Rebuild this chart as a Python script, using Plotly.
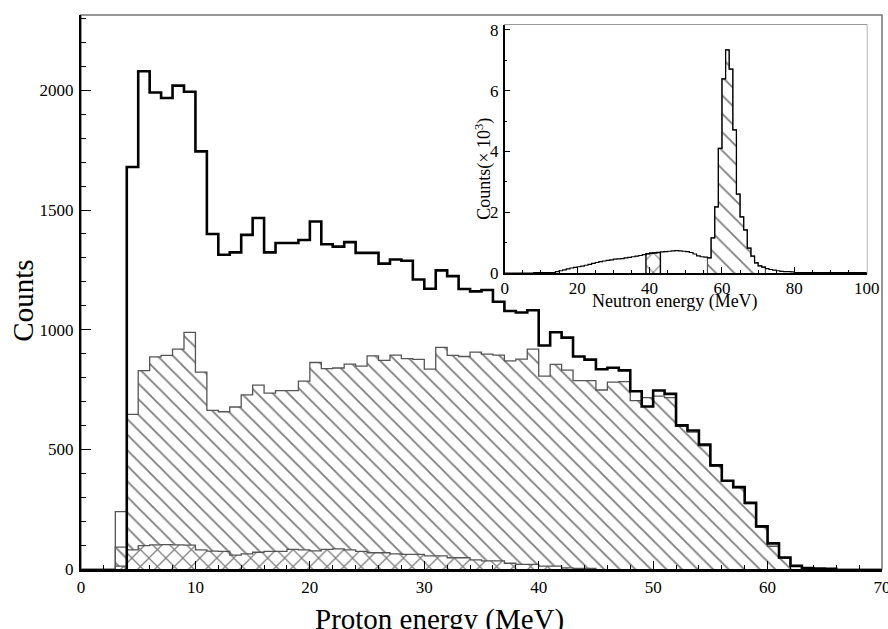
import numpy as np
import plotly.graph_objects as go

# ---------------- data ----------------
# Proton energy histogram, 1 MeV bins, first bin starts at 3 MeV
proton_first_bin = 3
total_counts = [240, 1680, 2080, 1991, 1968, 2020, 1994, 1745, 1400, 1313, 1323,
                1396, 1467, 1323, 1362, 1362, 1375, 1452, 1357, 1347, 1366, 1321,
                1321, 1276, 1293, 1288, 1210, 1171, 1248, 1224, 1170, 1160, 1166,
                1117, 1078, 1072, 1081, 934, 989, 967, 888, 875, 835, 841, 830,
                743, 679, 746, 732, 600, 579, 520, 433, 369, 342, 277, 178, 107,
                48, 13, 4, 2, 1]
hatched_counts = [91, 646, 829, 886, 893, 919, 989, 823, 663, 657, 677, 728, 768,
                  735, 745, 745, 785, 863, 837, 840, 856, 848, 891, 872, 894, 879,
                  876, 835, 926, 893, 888, 906, 898, 894, 870, 877, 919, 806, 855,
                  831, 787, 787, 748, 781, 783, 704, 716, 722, 716, 596, 572, 515,
                  430, 367, 340, 272, 175, 95, 45, 12, 3]
cross_counts = [12, 80, 98, 101, 102, 101, 100, 80, 75, 74, 58, 63, 70, 74, 74, 82,
                80, 76, 82, 84, 80, 74, 68, 68, 63, 61, 61, 55, 55, 47, 47, 38, 34,
                34, 24, 19, 19, 12, 12, 5, 3, 2]

# Neutron energy histogram (inset), counts x 10^3, 1 MeV bins from 0 MeV
neutron_counts = ([0.0] * 8 + [0.02] * 6 +
                  [0.05, 0.08, 0.11, 0.14, 0.17, 0.19, 0.21, 0.23, 0.26, 0.29,
                   0.32, 0.35, 0.38, 0.40, 0.42, 0.44, 0.46, 0.47, 0.48, 0.50,
                   0.52, 0.54, 0.56, 0.58, 0.61, 0.64, 0.66, 0.67, 0.68, 0.70,
                   0.71, 0.72, 0.73, 0.74, 0.73, 0.72, 0.71, 0.68, 0.63, 0.57,
                   0.54, 0.53, 0.50, 1.16, 2.18, 4.10, 6.39, 7.34, 6.71, 4.71,
                   2.60, 1.85, 1.42, 0.82, 0.56, 0.34, 0.24, 0.20, 0.15, 0.12,
                   0.10, 0.08, 0.06, 0.05, 0.05, 0.04] + [0.02] * 20)
neutron_hatch_range = (56, 72)   # MeV, gated peak region
neutron_cross_range = (39, 43)   # MeV, gated background region

main_xticks = [0, 10, 20, 30, 40, 50, 60, 70]
main_yticks = [0, 500, 1000, 1500, 2000]
inset_xticks = [0, 20, 40, 60, 80, 100]
inset_yticks = [0, 2, 4, 6, 8]


def step_xy(first_edge, values):
    values = np.asarray(values, dtype=float)
    edges = first_edge + np.arange(len(values) + 1)
    xs = np.concatenate([[edges[0]], edges[:-1], [edges[-1]]])
    ys = np.concatenate([[0.0], values, [0.0]])
    return xs, ys


FONT = "Liberation Serif, Times New Roman, serif"
fig = go.Figure()

# ---- main panel ----
hx, hy = step_xy(proton_first_bin, hatched_counts)
fig.add_trace(go.Scatter(x=hx, y=hy, mode="lines", line=dict(color="#555", width=1.3, shape="hv"),
                         fill="tozeroy", fillcolor="white",
                         fillpattern=dict(shape="\\", fgcolor="black", bgcolor="white",
                                          size=11, solidity=0.17),
                         showlegend=False, hoverinfo="skip"))
cx, cy = step_xy(proton_first_bin, cross_counts)
fig.add_trace(go.Scatter(x=cx, y=cy, mode="lines", line=dict(color="#555", width=1.3, shape="hv"),
                         fill="tozeroy", fillcolor="white",
                         fillpattern=dict(shape="x", fgcolor="black", bgcolor="white",
                                          size=12, solidity=0.2),
                         showlegend=False, hoverinfo="skip"))
# thin outline of the first (ungated) bin
tx0, ty0 = step_xy(proton_first_bin, total_counts[:1])
fig.add_trace(go.Scatter(x=tx0, y=ty0, mode="lines", line=dict(color="#555", width=1.3, shape="hv"),
                         showlegend=False, hoverinfo="skip"))
tx, ty = step_xy(proton_first_bin + 1, total_counts[1:])
fig.add_trace(go.Scatter(x=tx, y=ty, mode="lines", line=dict(color="black", width=2.6, shape="hv"),
                         showlegend=False, hoverinfo="skip"))

# ---- inset ----
nc = np.asarray(neutron_counts)
lo, hi = neutron_hatch_range
ix, iy = step_xy(lo, nc[lo:hi])
fig.add_trace(go.Scatter(x=ix, y=iy, xaxis="x2", yaxis="y2", mode="lines",
                         line=dict(color="#555", width=1.2, shape="hv"),
                         fill="tozeroy", fillcolor="white",
                         fillpattern=dict(shape="\\", fgcolor="black", bgcolor="white",
                                          size=13, solidity=0.14),
                         showlegend=False, hoverinfo="skip"))
lo, hi = neutron_cross_range
ix, iy = step_xy(lo, nc[lo:hi])
fig.add_trace(go.Scatter(x=ix, y=iy, xaxis="x2", yaxis="y2", mode="lines",
                         line=dict(color="black", width=1.4, shape="hv"),
                         fill="tozeroy", fillcolor="white",
                         fillpattern=dict(shape="x", fgcolor="black", bgcolor="white",
                                          size=14, solidity=0.15),
                         showlegend=False, hoverinfo="skip"))
nx, ny = step_xy(0, nc)
fig.add_trace(go.Scatter(x=nx, y=ny, xaxis="x2", yaxis="y2", mode="lines",
                         line=dict(color="black", width=1.2, shape="hv"),
                         showlegend=False, hoverinfo="skip"))

tickfont = dict(family=FONT, size=17, color="black")
fig.update_layout(
    width=888, height=629,
    margin=dict(l=81, r=6, t=15, b=60, autoexpand=False),
    paper_bgcolor="white", plot_bgcolor="white",
    font=dict(family=FONT, size=17, color="black"),
    showlegend=False,
    xaxis=dict(domain=[0, 1], range=[0, 70], tickvals=main_xticks, ticks="inside",
               ticklen=8, tickwidth=1, tickcolor="black",
               minor=dict(dtick=2, ticks="inside", ticklen=4, tickcolor="black"),
               showline=True, linecolor="black", linewidth=2.5, showgrid=False,
               zeroline=False, tickfont=tickfont, ticklabelstandoff=1, automargin=False,
               ticklabeloverflow="allow"),
    yaxis=dict(domain=[0, 1], range=[0, 2315], tickvals=main_yticks, ticks="inside",
               ticklen=10, tickwidth=1, tickcolor="black",
               minor=dict(dtick=100, ticks="inside", ticklen=5, tickcolor="black"),
               showline=True, linecolor="black", linewidth=2, showgrid=False,
               zeroline=False, tickfont=tickfont, ticklabelstandoff=2, automargin=False),
    xaxis2=dict(domain=[0.529, 0.981], anchor="y2", range=[0, 100], tickvals=inset_xticks,
                ticks="inside", ticklen=6, tickcolor="black",
                minor=dict(dtick=5, ticks="inside", ticklen=3, tickcolor="black"),
                showline=True, linecolor="black", linewidth=2, showgrid=False,
                zeroline=False, tickfont=tickfont, ticklabelstandoff=-2, automargin=False,
                ticklabeloverflow="allow"),
    yaxis2=dict(domain=[0.534, 0.982], anchor="x2", range=[0, 8.16], tickvals=inset_yticks,
                ticks="inside", ticklen=6, tickcolor="black",
                minor=dict(dtick=1, ticks="inside", ticklen=3, tickcolor="black"),
                showline=True, linecolor="black", linewidth=1.5, showgrid=False,
                zeroline=False, tickfont=tickfont, ticklabelstandoff=1, automargin=False),
    shapes=[
        dict(type="rect", xref="paper", yref="paper", x0=0, x1=1, y0=0, y1=1,
             line=dict(color="#777", width=1.5), layer="below"),
        dict(type="rect", xref="x2 domain", yref="y2 domain", x0=0, x1=1, y0=0, y1=1,
             line=dict(color="#777", width=1.2), layer="below"),
    ],
    annotations=[
        dict(text="Proton energy (MeV)", xref="paper", yref="paper", x=0.448, y=-0.058,
             xanchor="center", yanchor="top", showarrow=False,
             font=dict(family=FONT, size=29, color="black")),
        dict(text="Counts", xref="paper", yref="paper", x=-0.072, y=0.485,
             xanchor="center", yanchor="middle", textangle=-90, showarrow=False,
             font=dict(family=FONT, size=29, color="black")),
        dict(text="Neutron energy (MeV)", xref="x2 domain", yref="y2 domain", x=0.47, y=-0.062,
             xanchor="center", yanchor="top", showarrow=False,
             font=dict(family=FONT, size=18, color="black")),
        dict(text="Counts(× 10<sup>3</sup>)", xref="x2 domain", yref="y2 domain", x=-0.058, y=0.42,
             xanchor="center", yanchor="middle", textangle=-90, showarrow=False,
             font=dict(family=FONT, size=18, color="black")),
    ],
)

fig.write_html("out.html", post_script="document.body.style.margin='0px';",
               config={"displayModeBar": False})
